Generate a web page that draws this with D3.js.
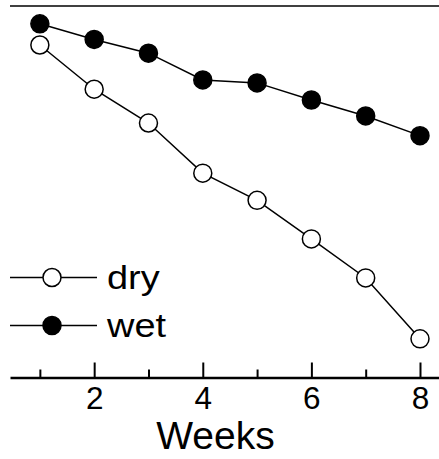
<!DOCTYPE html>
<html>
<head>
<meta charset="utf-8">
<script src="https://cdn.jsdelivr.net/npm/d3@7"></script>
<style>
  html, body { margin: 0; padding: 0; background: #fff; }
  svg { display: block; }
  text { font-family: "Liberation Sans", Arial, Helvetica, sans-serif; fill: #000; }
</style>
</head>
<body>
<svg id="chart" width="439" height="459"></svg>
<script>
const weeks = [1, 2, 3, 4, 5, 6, 7, 8];
const dryValues = [89.5, 77.6, 68.5, 55.0, 47.7, 37.3, 26.8, 10.4];
const wetValues = [95.2, 91.0, 87.3, 80.1, 79.3, 74.7, 70.4, 65.1];
const majorTicks = [2, 4, 6, 8];
const minorTicks = [1, 3, 5, 7];
const seriesNames = ["dry", "wet"];
const xTitle = "Weeks";

const svg = d3.select("#chart");
const x = d3.scaleLinear().domain([0.45, 8.35]).range([10, 439]);
const y = d3.scaleLinear().domain([0, 100]).range([377.5, 6]);

// top frame line
svg.append("line")
  .attr("x1", x.range()[0]).attr("x2", x.range()[1])
  .attr("y1", y(100)).attr("y2", y(100))
  .attr("stroke", "#000").attr("stroke-width", 1.5);

// minor ticks
const minorAxis = d3.axisBottom(x).tickValues(minorTicks).tickSize(-8).tickSizeOuter(0).tickFormat("");
const gMinor = svg.append("g").attr("transform", `translate(0,${y(0)})`).call(minorAxis);
gMinor.select(".domain").remove();
gMinor.selectAll(".tick line").attr("stroke", "#000").attr("stroke-width", 2);

// major axis
const majorAxis = d3.axisBottom(x).tickValues(majorTicks).tickSize(-15).tickSizeOuter(0).tickPadding(9).tickFormat(d3.format("d"));
const gMajor = svg.append("g").attr("transform", `translate(0,${y(0)})`).call(majorAxis);
gMajor.select(".domain").attr("stroke", "#000").attr("stroke-width", 2.5);
gMajor.selectAll(".tick line").attr("stroke", "#000").attr("stroke-width", 2);
gMajor.selectAll(".tick text")
  .attr("font-size", 31.5)
  .attr("font-family", "Liberation Sans, Arial, sans-serif")
  .attr("fill", "#000");

// x title
svg.append("text")
  .attr("x", 215.5)
  .attr("y", 449)
  .attr("text-anchor", "middle")
  .attr("font-size", 39)
  .text(xTitle);

const line = d3.line().x((d, i) => x(weeks[i])).y(d => y(d));

const series = [
  { name: seriesNames[0], values: dryValues, fill: "#fff" },
  { name: seriesNames[1], values: wetValues, fill: "#000" }
];

series.forEach(s => {
  svg.append("path")
    .datum(s.values)
    .attr("d", line)
    .attr("fill", "none")
    .attr("stroke", "#000")
    .attr("stroke-width", 1.5);
  svg.selectAll(null)
    .data(s.values)
    .enter().append("circle")
    .attr("cx", (d, i) => x(weeks[i]))
    .attr("cy", d => y(d))
    .attr("r", 9)
    .attr("fill", s.fill)
    .attr("stroke", "#000")
    .attr("stroke-width", 1.5);
});

// legend
const legendY = [277.5, 325.5];
series.forEach((s, i) => {
  const g = svg.append("g").attr("transform", `translate(0,${legendY[i]})`);
  g.append("line").attr("x1", 10).attr("x2", 97).attr("y1", 0).attr("y2", 0)
    .attr("stroke", "#000").attr("stroke-width", 1.5);
  g.append("circle").attr("cx", 52).attr("cy", 0).attr("r", 9)
    .attr("fill", s.fill).attr("stroke", "#000").attr("stroke-width", 1.5);
  g.append("text")
    .attr("transform", "translate(107,0) scale(1.15,1)")
    .attr("x", 0).attr("y", 0).attr("dy", "0.35em")
    .attr("font-size", 33).text(s.name);
});
</script>
</body>
</html>
